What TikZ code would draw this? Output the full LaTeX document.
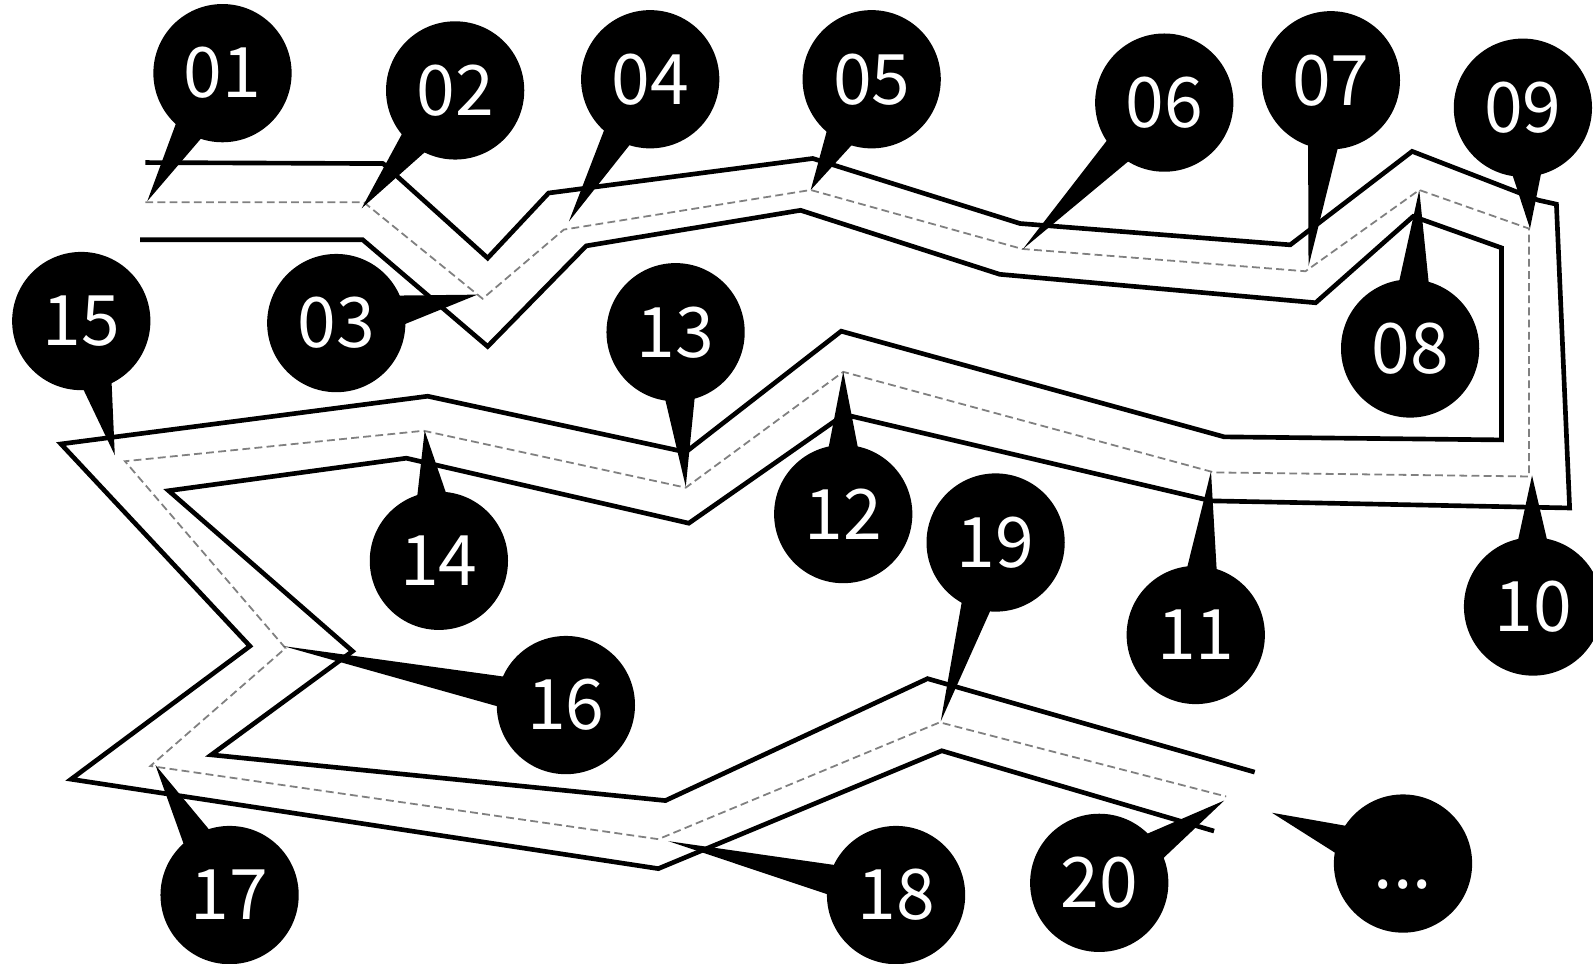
\documentclass[tikz,border=0pt]{standalone}
\usepackage{fontspec}
\setmainfont{Noto Sans CJK SC}
\usetikzlibrary{calc}
\tikzset{
  edge/.style={line width=1.3pt, black, line join=miter},
  centre/.style={line width=0.5pt, gray, dash pattern=on 2.2pt off 1.2pt},
  bubble/.style={circle, fill=black, text=white, minimum size=1.36cm, inner sep=0pt,
    font=\fontsize{19.5}{22}\selectfont},
}
\newcommand\callout[4]{%
  \coordinate (t#1) at #3;
  \coordinate (o#1) at #2;
  \fill ($(o#1)!0.63cm!14:(t#1)$) -- (t#1) -- ($(o#1)!0.63cm!-14:(t#1)$) -- cycle;
  \node[bubble] (c#1) at (o#1) {#4};
}
\begin{document}
\begin{tikzpicture}[x=0.01cm, y=-0.01cm]
\useasboundingbox (0,0) rectangle (1568,948);
% outer edge
\draw[edge] (143,160) -- (377,161) -- (480,254) -- (540,190) -- (800,156) -- (1004,220)
  -- (1270,241) -- (1390,149) -- (1514,197) -- (1532,201) -- (1545,500) -- (1192,493)
  -- (831,408) -- (678,515) -- (400,451) -- (166,483) -- (347,641) -- (208,743)
  -- (655,788) -- (913,668) -- (1235,760);
% other edge
\draw[edge] (138,236) -- (357,236) -- (480,341) -- (577,242) -- (788,207) -- (984,270)
  -- (1295,298) -- (1391,213) -- (1478,244) -- (1478,433) -- (1205,430) -- (828,326)
  -- (675,445) -- (421,390) -- (60,437) -- (246,636) -- (70,767) -- (648,855)
  -- (927,739) -- (1195,818);
% centre line
\draw[centre] (143,199) -- (358,199) -- (475,294) -- (555,226) -- (798,187) -- (1006,245)
  -- (1285,267) -- (1397,187) -- (1505,225) -- (1505,469) -- (1195,465) -- (830,366)
  -- (675,480) -- (417,424) -- (123,454) -- (281,638) -- (148,754) -- (648,826)
  -- (925,711) -- (1207,784);
% callouts
\callout{01}{(219,72)}{(145,198)}{01}
\callout{02}{(448,89)}{(356,205)}{02}
\callout{03}{(331,318)}{(470,290)}{03}
\callout{04}{(640,78)}{(560,218)}{04}
\callout{05}{(858,78)}{(798,187)}{05}
\callout{06}{(1146,101)}{(1007,245)}{06}
\callout{07}{(1310,79)}{(1288,262)}{07}
\callout{08}{(1388,343)}{(1397,187)}{08}
\callout{09}{(1499,106)}{(1506,225)}{09}
\callout{10}{(1509,597)}{(1508,468)}{10}
\callout{11}{(1177,625)}{(1192,464)}{11}
\callout{12}{(830,506)}{(830,366)}{12}
\callout{13}{(665,327)}{(675,479)}{13}
\callout{14}{(432,552)}{(418,424)}{14}
\callout{15}{(80,316)}{(113,448)}{15}
\callout{16}{(557,694)}{(279,636)}{16}
\callout{17}{(226,881)}{(153,753)}{17}
\callout{18}{(882,881)}{(658,828)}{18}
\callout{19}{(980,534)}{(926,710)}{19}
\callout{20}{(1082,869)}{(1205,788)}{20}
\callout{more}{(1381,850)}{(1252,800)}{\vphantom{0}...}
\end{tikzpicture}
\end{document}
